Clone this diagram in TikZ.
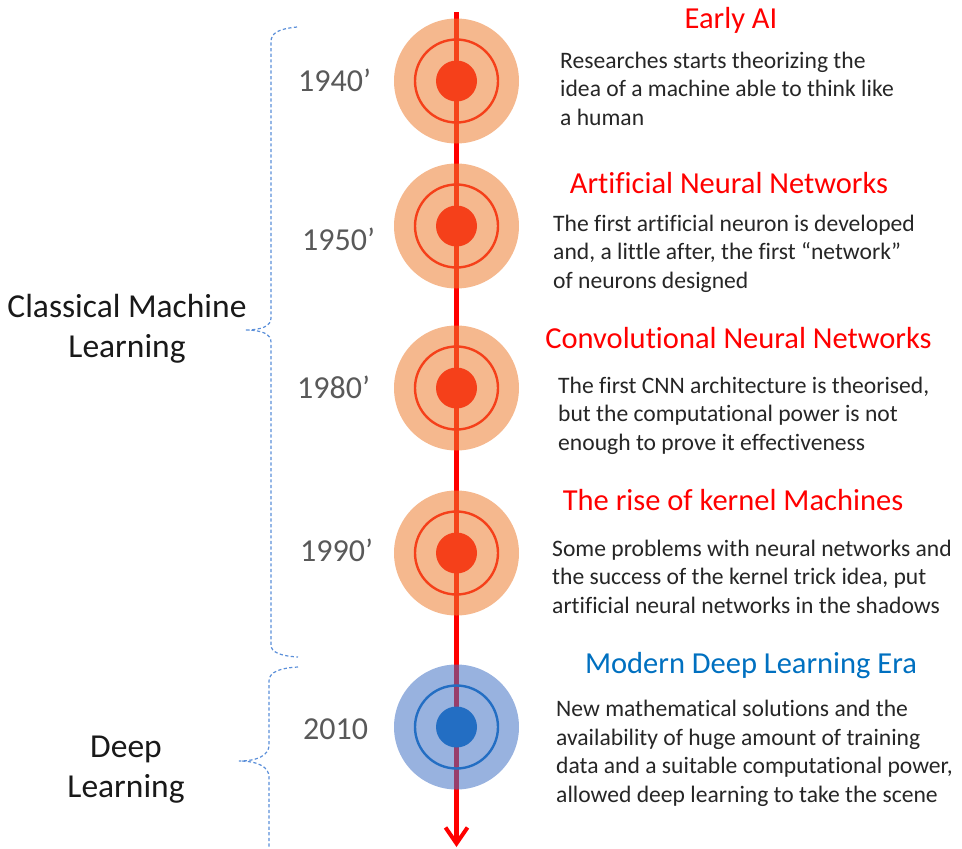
\documentclass[tikz,border=0pt]{standalone}
\usepackage{fontspec}
\setmainfont{Carlito}[Ligatures=NoCommon]
\usetikzlibrary{arrows.meta}

\definecolor{timered}{RGB}{255,0,0}
\definecolor{warmring}{RGB}{245,64,26}
\definecolor{warmhalo}{RGB}{237,125,49}
\definecolor{coolring}{RGB}{35,110,195}
\definecolor{coolhalo}{RGB}{68,114,196}
\definecolor{bracecol}{RGB}{91,143,217}
\definecolor{bodytext}{RGB}{38,38,38}
\definecolor{yeartext}{RGB}{89,89,89}
\definecolor{titleblue}{RGB}{0,112,192}

\tikzset{
  halo/.style={circle, minimum size=125pt, inner sep=0pt, fill=#1, fill opacity=0.55},
  ringline/.style={circle, minimum size=83pt, inner sep=0pt, draw=#1, line width=2.4pt},
  core/.style={circle, minimum size=41pt, inner sep=0pt, fill=#1},
  title/.style={anchor=base, inner sep=0pt, font=\fontsize{30.5}{36}\selectfont},
  % multi-line nodes are placed by the baseline of their last line
  body/.style={anchor=base west, inner sep=0pt, align=left, text=bodytext,
    font=\fontsize{23.6}{28.5}\selectfont},
  year/.style={anchor=base west, inner sep=0pt, text=yeartext,
    font=\fontsize{32}{37}\selectfont},
  era/.style={anchor=base, inner sep=0pt, align=center, text=black!90,
    font=\fontsize{33.5}{40}\selectfont},
  bracepath/.style={draw=bracecol, line width=1.2pt, dash pattern=on 3.2pt off 2.4pt},
}

\begin{document}
\begin{tikzpicture}[x=1pt,y=-1pt]
\useasboundingbox (0,0) rectangle (962,849);

% time axis
\coordinate (axtop) at (456.5,12);
\coordinate (axend) at (456.5,847);
\draw[timered, line width=4.5pt,
  -{Straight Barb[length=16pt, width=22pt, line width=4pt]}] (axtop) -- (axend);

% milestones on the axis
\foreach \name/\y in {m1/81, m2/226, m3/388, m4/553}{
  \node[halo=warmhalo] (\name) at (456.5,\y) {};
  \node[ringline=warmring] at (\name) {};
  \node[core=warmring] at (\name) {};
}
\node[halo=coolhalo] (m5) at (456.5,727) {};
\node[ringline=coolring] at (m5) {};
\node[core=coolring] at (m5) {};

% years
\node[year] (y1) at (298,91) {1940’};
\node[year] (y2) at (302,250) {1950’};
\node[year] (y3) at (297,398) {1980’};
\node[year] (y4) at (300,561) {1990’};
\node[year] (y5) at (303,739) {2010};

% titles
\node[title, text=timered] (t1) at (731,28) {Early AI};
\node[title, text=timered] (t2) at (729,193) {Artificial Neural Networks};
\node[title, text=timered] (t3) at (738.5,348) {Convolutional Neural Networks};
\node[title, text=timered] (t4) at (733,510) {The rise of kernel Machines};
\node[title, text=titleblue] (t5) at (751,673) {Modern Deep Learning Era};

% descriptions
\node[body] (d1) at (560,125) {Researches starts theorizing the\\idea of a machine able to think like\\a human};
\node[body] (d2) at (553,288) {The first artificial neuron is developed\\and, a little after, the first “network”\\of neurons designed};
\node[body] (d3) at (558,450) {The first CNN architecture is theorised,\\but the computational power is not\\enough to prove it effectiveness};
\node[body] (d4) at (552,613) {Some problems with neural networks and\\the success of the kernel trick idea, put\\artificial neural networks in the shadows};
\node[body] (d5) at (556,802) {New mathematical solutions and the\\availability of huge amount of training\\data and a suitable computational power,\\allowed deep learning to take the scene};

% eras with their braces
\node[era] (e1) at (127,357) {Classical Machine\\Learning};
\node[era] (e2) at (126,797) {Deep\\Learning};

\draw[bracepath] (297,27) .. controls (278,29) and (271,33) .. (271,42)
  -- (271,318) .. controls (271,326) and (262,330) .. (245,330)
  .. controls (262,330) and (271,334) .. (271,342)
  -- (271,645) .. controls (271,652) and (280,656) .. (298,657);
\draw[bracepath] (298,667) .. controls (280,668) and (269,672) .. (269,681)
  -- (269,745) .. controls (269,755) and (258,761) .. (239,761)
  .. controls (258,761) and (269,767) .. (269,777)
  -- (269,849);
\end{tikzpicture}
\end{document}
